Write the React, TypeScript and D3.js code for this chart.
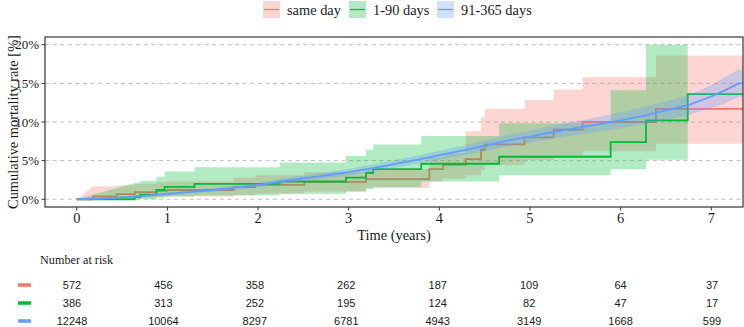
import React, { useEffect } from "react";
import * as d3 from "d3";

// Groups, colours
const groupNames = ["same day", "1-90 days", "91-365 days"];
const groupColors = ["#F8766D", "#00BA38", "#619CFF"];

// Cumulative mortality (%) — same day group (step times in years)
const sameDayTime = [0, 0.18, 0.44, 0.64, 0.88, 1.0, 1.73, 1.97, 2.51, 3.19, 3.89, 4.04, 4.29, 4.46, 4.5, 4.94, 5.26, 5.58, 6.39];
const sameDayEst = [0, 0.37, 0.67, 0.93, 1.1, 1.2, 1.57, 1.87, 2.25, 2.6, 3.9, 4.45, 5.2, 6.4, 7.1, 8.0, 9.0, 10.0, 11.7];
const sameDayLower = [0, 0.0, 0.1, 0.2, 0.3, 0.35, 0.55, 0.75, 1.0, 1.45, 2.3, 2.7, 3.1, 3.8, 4.45, 5.1, 5.6, 6.2, 7.2];
const sameDayUpper = [0, 1.7, 1.8, 2.0, 2.2, 2.3, 2.8, 3.1, 3.5, 3.9, 5.4, 6.0, 8.8, 10.6, 11.7, 12.8, 14.2, 15.8, 18.6];

// 1-90 days group
const days1to90Time = [0, 0.64, 0.7, 0.88, 0.97, 1.3, 2.24, 2.97, 3.19, 3.27, 3.8, 4.66, 5.89, 6.28, 6.74];
const days1to90Est = [0, 0.28, 0.6, 1.2, 1.6, 2.0, 2.3, 2.8, 3.4, 3.9, 4.6, 5.5, 7.4, 10.2, 13.6];
const days1to90Lower = [0, 0.0, 0.05, 0.2, 0.35, 0.5, 0.7, 1.0, 1.3, 1.6, 2.3, 3.1, 3.9, 5.1, NaN];
const days1to90Upper = [0, 2.1, 2.4, 2.9, 3.6, 4.15, 4.75, 5.6, 6.4, 7.1, 8.2, 9.85, 14.1, 20.0, NaN];

// 91-365 days group
const days91to365Time = [0, 0.25, 0.5, 0.75, 1.0, 1.25, 1.5, 1.75, 2.0, 2.25, 2.5, 2.75, 3.0, 3.25, 3.5, 3.75, 4.0, 4.25, 4.5, 4.75, 5.0, 5.25, 5.5, 5.75, 6.0, 6.25, 6.5, 6.75, 7.0, 7.15, 7.3];
const days91to365Est = [0, 0.1, 0.25, 0.45, 0.7, 0.95, 1.2, 1.5, 1.85, 2.3, 2.7, 3.1, 3.5, 4.0, 4.55, 5.1, 5.7, 6.3, 6.9, 7.6, 8.1, 8.7, 9.2, 9.7, 10.2, 10.8, 11.5, 12.2, 13.3, 14.1, 15.0];
const days91to365Lower = [0, 0.05, 0.15, 0.3, 0.5, 0.72, 0.95, 1.22, 1.55, 1.97, 2.33, 2.7, 3.07, 3.53, 4.05, 4.56, 5.12, 5.68, 6.22, 6.87, 7.32, 7.86, 8.3, 8.74, 9.18, 9.7, 10.3, 10.9, 11.8, 12.4, 13.2];
const days91to365Upper = [0, 0.2, 0.38, 0.62, 0.9, 1.18, 1.45, 1.78, 2.15, 2.63, 3.07, 3.5, 3.93, 4.47, 5.05, 5.64, 6.28, 6.92, 7.58, 8.33, 8.88, 9.54, 10.1, 10.66, 11.22, 11.9, 12.7, 13.5, 14.8, 15.8, 16.8];

// Axis ticks
const xTicks = [0, 1, 2, 3, 4, 5, 6, 7];
const yTicks = [0, 5, 10, 15, 20];

// Number at risk table
const riskTimes = [0, 1, 2, 3, 4, 5, 6, 7];
const riskSameDay = [572, 456, 358, 262, 187, 109, 64, 37];
const riskDays1to90 = [386, 313, 252, 195, 124, 82, 47, 17];
const riskDays91to365 = [12248, 10064, 8297, 6781, 4943, 3149, 1668, 599];

type Series = {
  time: number[];
  est: number[];
  lower: number[];
  upper: number[];
  stepped: boolean;
};

const series: Series[] = [
  { time: sameDayTime, est: sameDayEst, lower: sameDayLower, upper: sameDayUpper, stepped: true },
  { time: days1to90Time, est: days1to90Est, lower: days1to90Lower, upper: days1to90Upper, stepped: true },
  { time: days91to365Time, est: days91to365Est, lower: days91to365Lower, upper: days91to365Upper, stepped: false },
];
const riskRows = [riskSameDay, riskDays1to90, riskDays91to365];

const W = 744;
const H = 327;
const panel = { left: 45, right: 743, top: 37, bottom: 207 };
const X_MIN = -0.35;
const X_MAX = 7.35;

const serif = "'Liberation Serif', 'Times New Roman', serif";
const sans = "'Liberation Sans Narrow', 'Arial Narrow', 'Liberation Sans', Arial, sans-serif";

// Build the estimate path as a step function running to the right edge
function linePoints(s: Series): [number, number][] {
  const pts: [number, number][] = [[s.time[0], s.est[0]]];
  for (let i = 1; i < s.time.length; i++) {
    if (s.stepped) pts.push([s.time[i], s.est[i - 1]]);
    pts.push([s.time[i], s.est[i]]);
  }
  pts.push([X_MAX, s.est[s.est.length - 1]]);
  return pts;
}

// Confidence band: first segment linear from the origin, stepped afterwards
function bandPoints(s: Series): [number, number, number][] {
  const pts: [number, number, number][] = [[s.time[0], s.lower[0], s.upper[0]]];
  let last = 0;
  for (let i = 1; i < s.time.length; i++) {
    if (isNaN(s.lower[i])) {
      pts.push([s.time[i], s.lower[i - 1], s.upper[i - 1]]);
      return pts;
    }
    if (s.stepped && i > 1) pts.push([s.time[i], s.lower[i - 1], s.upper[i - 1]]);
    pts.push([s.time[i], s.lower[i], s.upper[i]]);
    last = i;
  }
  pts.push([X_MAX, s.lower[last], s.upper[last]]);
  return pts;
}

export default function App() {
  useEffect(() => {
    document.body.style.margin = "0";
  }, []);

  const x = d3.scaleLinear().domain([X_MIN, X_MAX]).range([panel.left, panel.right]);
  const y = d3.scaleLinear().domain([-1, 21]).range([panel.bottom, panel.top]);
  const xRisk = d3.scaleLinear().domain([X_MIN, X_MAX]).range([40, 744]);
  const riskY = [285, 303, 321];

  const line = d3
    .line<[number, number]>()
    .x((d) => x(d[0]))
    .y((d) => y(d[1]));
  const area = d3
    .area<[number, number, number]>()
    .x((d) => x(d[0]))
    .y0((d) => y(d[1]))
    .y1((d) => y(d[2]));

  const legendX = [263, 349, 437];

  return (
    <svg width={W} height={H} style={{ display: "block", background: "#fff" }}>
      <defs>
        <clipPath id="panel-clip">
          <rect x={panel.left} y={panel.top} width={panel.right - panel.left} height={panel.bottom - panel.top} />
        </clipPath>
      </defs>

      {/* legend */}
      {groupNames.map((g, i) => (
        <g key={g}>
          <rect x={legendX[i]} y={1} width={17} height={17} fill={groupColors[i]} fillOpacity={0.3} />
          <line x1={legendX[i] + 1} x2={legendX[i] + 16} y1={9.5} y2={9.5} stroke={groupColors[i]} strokeWidth={1.2} />
          <text x={legendX[i] + 24} y={10} dominantBaseline="central" fontFamily={serif} fontSize={14.4} fill="#1a1a1a">
            {g}
          </text>
        </g>
      ))}

      {/* grid */}
      {yTicks.map((t) => (
        <line key={t} x1={panel.left} x2={panel.right} y1={y(t)} y2={y(t)} stroke="#bdbdbd" strokeWidth={1} strokeDasharray="4,3.6" />
      ))}

      {/* bands and curves */}
      <g clipPath="url(#panel-clip)">
        {series.map((s, i) => (
          <g key={i}>
            <path d={area(bandPoints(s)) || ""} fill={groupColors[i]} fillOpacity={0.3} stroke="none" />
            <path d={line(linePoints(s)) || ""} fill="none" stroke={groupColors[i]} strokeWidth={1.8} />
          </g>
        ))}
      </g>

      {/* panel border */}
      <rect
        x={panel.left}
        y={panel.top}
        width={panel.right - panel.left}
        height={panel.bottom - panel.top}
        fill="none"
        stroke="#333"
        strokeWidth={1.2}
      />

      {/* y axis */}
      {yTicks.map((t) => (
        <g key={t}>
          <line x1={panel.left - 3.5} x2={panel.left} y1={y(t)} y2={y(t)} stroke="#333" strokeWidth={1} />
          <text x={panel.left - 6} y={y(t)} textAnchor="end" dominantBaseline="central" fontFamily={serif} fontSize={13} fill="#1a1a1a">
            {t}%
          </text>
        </g>
      ))}
      <text
        transform={`translate(13, ${(panel.top + panel.bottom) / 2}) rotate(-90)`}
        textAnchor="middle"
        dominantBaseline="central"
        fontFamily={serif}
        fontSize={14.4}
        fill="#1a1a1a"
      >
        Cumulative mortality rate [%]
      </text>

      {/* x axis */}
      {xTicks.map((t) => (
        <g key={t}>
          <line x1={x(t)} x2={x(t)} y1={panel.bottom} y2={panel.bottom + 3.5} stroke="#333" strokeWidth={1} />
          <text x={x(t)} y={218} textAnchor="middle" dominantBaseline="central" fontFamily={serif} fontSize={14.4} fill="#1a1a1a">
            {t}
          </text>
        </g>
      ))}
      <text x={(panel.left + panel.right) / 2} y={235} textAnchor="middle" dominantBaseline="central" fontFamily={serif} fontSize={14.4} fill="#1a1a1a">
        Time (years)
      </text>

      {/* number at risk */}
      <text x={40} y={260} dominantBaseline="central" fontFamily={serif} fontSize={12.2} fill="#1a1a1a">
        Number at risk
      </text>
      {riskRows.map((row, r) => (
        <g key={r}>
          <line x1={18} x2={31} y1={riskY[r]} y2={riskY[r]} stroke={groupColors[r]} strokeWidth={3.5} />
          {row.map((n, k) => (
            <text
              key={k}
              x={xRisk(riskTimes[k])}
              y={riskY[r]}
              textAnchor="middle"
              dominantBaseline="central"
              fontFamily={sans}
              fontSize={11}
              fill="#1a1a1a"
            >
              {n}
            </text>
          ))}
        </g>
      ))}
    </svg>
  );
}
